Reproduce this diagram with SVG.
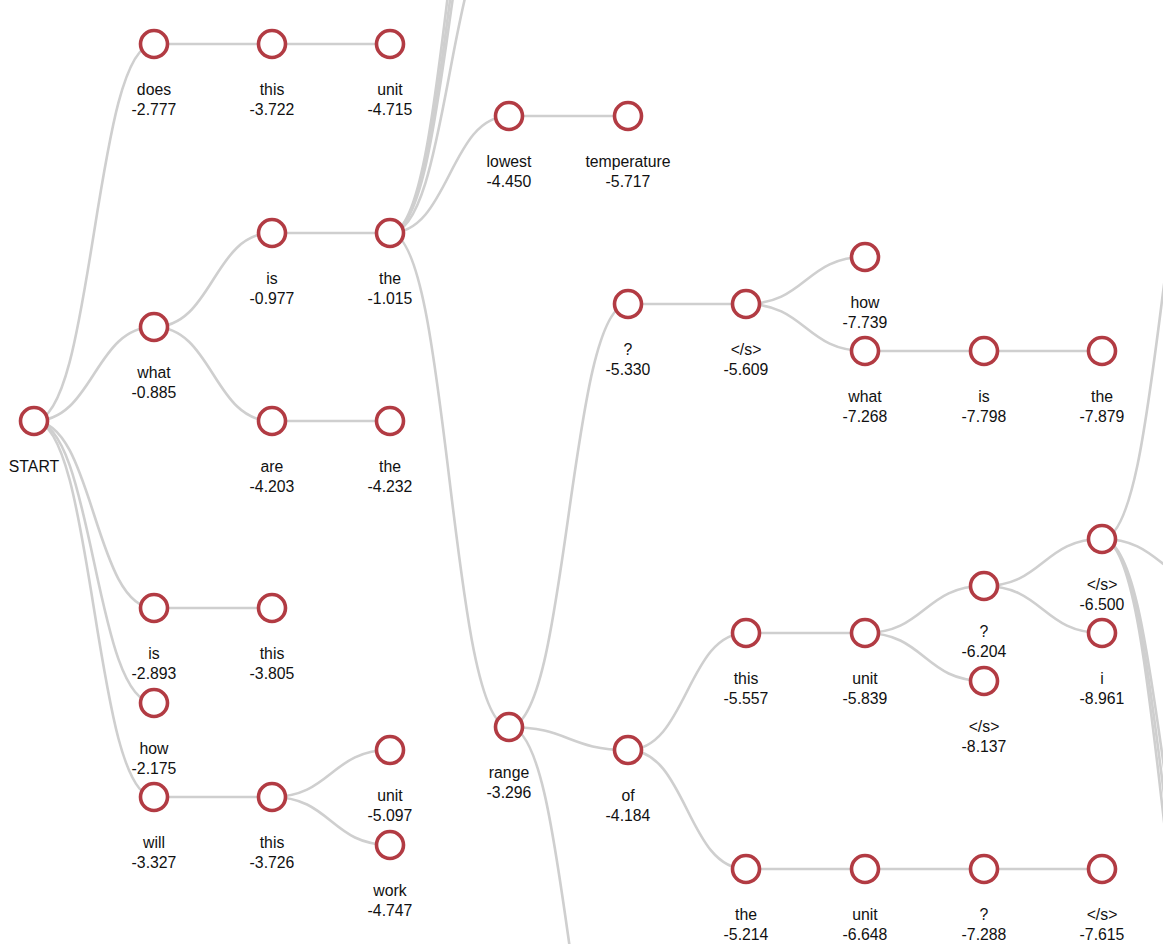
<svg xmlns="http://www.w3.org/2000/svg" width="1163" height="944" viewBox="0 0 1163 944">
<style>
.e{fill:none;stroke:#cfcfcf;stroke-width:2.6}
.n circle{fill:#fff;stroke:#b23b43;stroke-width:3.6}
.n text{font-family:"Liberation Sans",Arial,sans-serif;font-size:15.8px;fill:#111;text-anchor:middle}
</style>
<rect width="1163" height="944" fill="#fff"/>
<g id="connectors">
<path class="e" d="M34 421C94 421 94 44 154 44"/>
<path class="e" d="M34 421C94 421 94 327 154 327"/>
<path class="e" d="M34 421C94 421 94 608 154 608"/>
<path class="e" d="M34 421C94 421 94 703 154 703"/>
<path class="e" d="M34 421C94 421 94 797 154 797"/>
<path class="e" d="M154 44L272 44"/>
<path class="e" d="M272 44L390 44"/>
<path class="e" d="M154 327C213 327 213 233 272 233"/>
<path class="e" d="M154 327C213 327 213 421 272 421"/>
<path class="e" d="M272 233L390 233"/>
<path class="e" d="M272 421L390 421"/>
<path class="e" d="M154 608L272 608"/>
<path class="e" d="M154 797L272 797"/>
<path class="e" d="M272 797C331 797 331 750 390 750"/>
<path class="e" d="M272 797C331 797 331 845 390 845"/>
<path class="e" d="M390 233C449.5 233 449.5 -270 509 -270"/>
<path class="e" d="M390 233C449.5 233 449.5 -225 509 -225"/>
<path class="e" d="M390 233C449.5 233 449.5 -190 509 -190"/>
<path class="e" d="M390 233C449.5 233 449.5 -85 509 -85"/>
<path class="e" d="M390 233C449.5 233 449.5 116 509 116"/>
<path class="e" d="M390 233C449.5 233 449.5 727 509 727"/>
<path class="e" d="M509 116L628 116"/>
<path class="e" d="M509 727C568.5 727 568.5 304 628 304"/>
<path class="e" d="M509 727C568.5 727 568.5 750 628 750"/>
<path class="e" d="M509 727C568.5 727 568.5 1150 628 1150"/>
<path class="e" d="M628 304L746 304"/>
<path class="e" d="M746 304C805.5 304 805.5 257 865 257"/>
<path class="e" d="M746 304C805.5 304 805.5 351 865 351"/>
<path class="e" d="M865 351L984 351"/>
<path class="e" d="M984 351L1102 351"/>
<path class="e" d="M628 750C687 750 687 633 746 633"/>
<path class="e" d="M628 750C687 750 687 869 746 869"/>
<path class="e" d="M746 633L865 633"/>
<path class="e" d="M865 633C924.5 633 924.5 586 984 586"/>
<path class="e" d="M865 633C924.5 633 924.5 681 984 681"/>
<path class="e" d="M984 586C1043 586 1043 539 1102 539"/>
<path class="e" d="M984 586C1043 586 1043 633 1102 633"/>
<path class="e" d="M1102 539C1161.5 539 1161.5 70 1221 70"/>
<path class="e" d="M1102 539C1161.5 539 1161.5 586 1221 586"/>
<path class="e" d="M1102 539C1161.5 539 1161.5 960 1221 960"/>
<path class="e" d="M1102 539C1161.5 539 1161.5 1010 1221 1010"/>
<path class="e" d="M1102 539C1161.5 539 1161.5 1060 1221 1060"/>
<path class="e" d="M746 869L865 869"/>
<path class="e" d="M865 869L984 869"/>
<path class="e" d="M984 869L1102 869"/>
</g>
<g id="n-start" class="n"><circle cx="34" cy="421" r="13.5"/><text x="34" y="472">START</text></g>
<g id="n-does" class="n"><circle cx="154" cy="44" r="13.5"/><text x="154" y="95">does</text><text x="154" y="115">-2.777</text></g>
<g id="n-does-this" class="n"><circle cx="272" cy="44" r="13.5"/><text x="272" y="95">this</text><text x="272" y="115">-3.722</text></g>
<g id="n-does-this-unit" class="n"><circle cx="390" cy="44" r="13.5"/><text x="390" y="95">unit</text><text x="390" y="115">-4.715</text></g>
<g id="n-what" class="n"><circle cx="154" cy="327" r="13.5"/><text x="154" y="378">what</text><text x="154" y="398">-0.885</text></g>
<g id="n-what-is" class="n"><circle cx="272" cy="233" r="13.5"/><text x="272" y="284">is</text><text x="272" y="304">-0.977</text></g>
<g id="n-what-is-the" class="n"><circle cx="390" cy="233" r="13.5"/><text x="390" y="284">the</text><text x="390" y="304">-1.015</text></g>
<g id="n-what-are" class="n"><circle cx="272" cy="421" r="13.5"/><text x="272" y="472">are</text><text x="272" y="492">-4.203</text></g>
<g id="n-what-are-the" class="n"><circle cx="390" cy="421" r="13.5"/><text x="390" y="472">the</text><text x="390" y="492">-4.232</text></g>
<g id="n-is" class="n"><circle cx="154" cy="608" r="13.5"/><text x="154" y="659">is</text><text x="154" y="679">-2.893</text></g>
<g id="n-is-this" class="n"><circle cx="272" cy="608" r="13.5"/><text x="272" y="659">this</text><text x="272" y="679">-3.805</text></g>
<g id="n-how" class="n"><circle cx="154" cy="703" r="13.5"/><text x="154" y="754">how</text><text x="154" y="774">-2.175</text></g>
<g id="n-will" class="n"><circle cx="154" cy="797" r="13.5"/><text x="154" y="848">will</text><text x="154" y="868">-3.327</text></g>
<g id="n-will-this" class="n"><circle cx="272" cy="797" r="13.5"/><text x="272" y="848">this</text><text x="272" y="868">-3.726</text></g>
<g id="n-will-this-unit" class="n"><circle cx="390" cy="750" r="13.5"/><text x="390" y="801">unit</text><text x="390" y="821">-5.097</text></g>
<g id="n-will-this-work" class="n"><circle cx="390" cy="845" r="13.5"/><text x="390" y="896">work</text><text x="390" y="916">-4.747</text></g>
<g id="n-lowest" class="n"><circle cx="509" cy="116" r="13.5"/><text x="509" y="167">lowest</text><text x="509" y="187">-4.450</text></g>
<g id="n-temperature" class="n"><circle cx="628" cy="116" r="13.5"/><text x="628" y="167">temperature</text><text x="628" y="187">-5.717</text></g>
<g id="n-range" class="n"><circle cx="509" cy="727" r="13.5"/><text x="509" y="778">range</text><text x="509" y="798">-3.296</text></g>
<g id="n-range-q" class="n"><circle cx="628" cy="304" r="13.5"/><text x="628" y="355">?</text><text x="628" y="375">-5.330</text></g>
<g id="n-range-q-end" class="n"><circle cx="746" cy="304" r="13.5"/><text x="746" y="355">&lt;/s&gt;</text><text x="746" y="375">-5.609</text></g>
<g id="n-range-q-end-how" class="n"><circle cx="865" cy="257" r="13.5"/><text x="865" y="308">how</text><text x="865" y="328">-7.739</text></g>
<g id="n-range-q-end-what" class="n"><circle cx="865" cy="351" r="13.5"/><text x="865" y="402">what</text><text x="865" y="422">-7.268</text></g>
<g id="n-range-q-end-what-is" class="n"><circle cx="984" cy="351" r="13.5"/><text x="984" y="402">is</text><text x="984" y="422">-7.798</text></g>
<g id="n-range-q-end-what-is-the" class="n"><circle cx="1102" cy="351" r="13.5"/><text x="1102" y="402">the</text><text x="1102" y="422">-7.879</text></g>
<g id="n-of" class="n"><circle cx="628" cy="750" r="13.5"/><text x="628" y="801">of</text><text x="628" y="821">-4.184</text></g>
<g id="n-of-this" class="n"><circle cx="746" cy="633" r="13.5"/><text x="746" y="684">this</text><text x="746" y="704">-5.557</text></g>
<g id="n-of-this-unit" class="n"><circle cx="865" cy="633" r="13.5"/><text x="865" y="684">unit</text><text x="865" y="704">-5.839</text></g>
<g id="n-of-this-unit-q" class="n"><circle cx="984" cy="586" r="13.5"/><text x="984" y="637">?</text><text x="984" y="657">-6.204</text></g>
<g id="n-of-this-unit-end" class="n"><circle cx="984" cy="681" r="13.5"/><text x="984" y="732">&lt;/s&gt;</text><text x="984" y="752">-8.137</text></g>
<g id="n-of-this-unit-q-end" class="n"><circle cx="1102" cy="539" r="13.5"/><text x="1102" y="590">&lt;/s&gt;</text><text x="1102" y="610">-6.500</text></g>
<g id="n-of-this-unit-q-i" class="n"><circle cx="1102" cy="633" r="13.5"/><text x="1102" y="684">i</text><text x="1102" y="704">-8.961</text></g>
<g id="n-of-the" class="n"><circle cx="746" cy="869" r="13.5"/><text x="746" y="920">the</text><text x="746" y="940">-5.214</text></g>
<g id="n-of-the-unit" class="n"><circle cx="865" cy="869" r="13.5"/><text x="865" y="920">unit</text><text x="865" y="940">-6.648</text></g>
<g id="n-of-the-unit-q" class="n"><circle cx="984" cy="869" r="13.5"/><text x="984" y="920">?</text><text x="984" y="940">-7.288</text></g>
<g id="n-of-the-unit-q-end" class="n"><circle cx="1102" cy="869" r="13.5"/><text x="1102" y="920">&lt;/s&gt;</text><text x="1102" y="940">-7.615</text></g>
</svg>
